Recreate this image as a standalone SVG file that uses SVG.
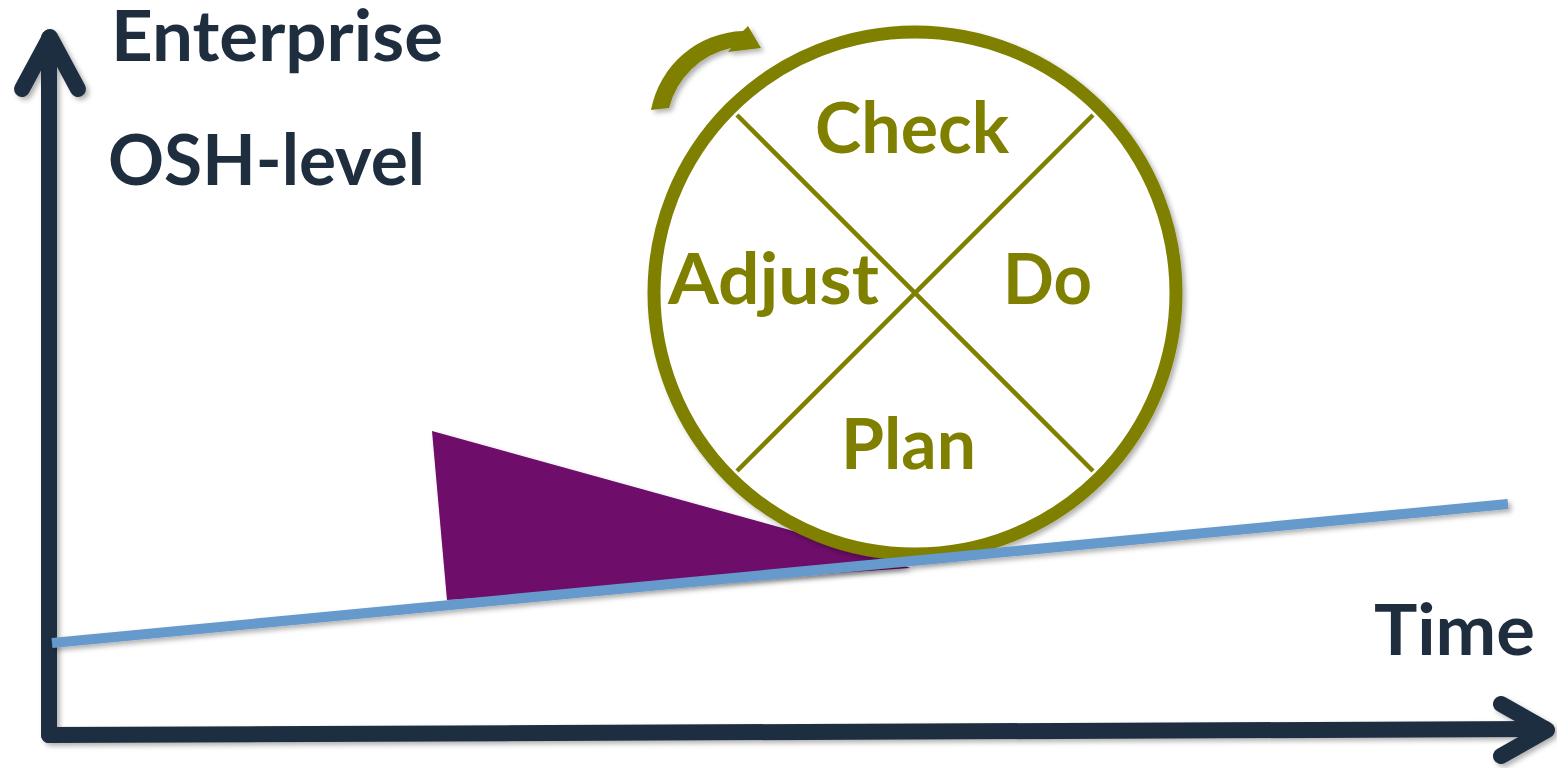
<svg xmlns="http://www.w3.org/2000/svg" width="1557" height="768" viewBox="0 0 1557 768">
  <style>
    .axis { fill: none; stroke: #1F2E3F; stroke-width: 16; stroke-linecap: round; stroke-linejoin: round; }
    .lbl { font-family: Lato, "Open Sans", "Liberation Sans", sans-serif; font-weight: bold; font-size: 71px; }
    .dark { fill: #1F2E3F; }
    .olive { fill: #808000; }
    .pdca-line { stroke: #808000; stroke-width: 4.5; }
  </style>
  <defs>
    <filter id="sh" x="-10%" y="-10%" width="120%" height="120%">
      <feDropShadow dx="3" dy="3" stdDeviation="2.5" flood-color="#000" flood-opacity="0.3"/>
    </filter>
  </defs>
  <rect width="1557" height="768" fill="#FFFFFF"/>

  <g id="axes" filter="url(#sh)">
    <line class="axis" x1="49" y1="735" x2="49" y2="38" stroke-linecap="butt"/>
    <polyline class="axis" points="22,89 50,37 78,89"/>
    <line class="axis" x1="49" y1="735" x2="1545" y2="729" stroke-linecap="butt"/>
    <polyline class="axis" points="1501,704 1547,730 1501,756"/>
  </g>

  <g id="wedge" filter="url(#sh)">
    <polygon points="432,431 447,600 910,568 880,555" fill="#6E086B"/>
  </g>

  <g id="pdca-wheel" filter="url(#sh)">
    <circle cx="915" cy="293" r="261" fill="#FFFFFF" stroke="#808000" stroke-width="13"/>
    <line class="pdca-line" x1="737" y1="115" x2="1093" y2="471"/>
    <line class="pdca-line" x1="1093" y1="115" x2="737" y2="471"/>
  </g>

  <g id="rotation-arrow" filter="url(#sh)">
    <path d="M651,110 A97,97 0 0 1 743,31 L748,26 L761,48 L728,52 L731,48 A82,82 0 0 0 669,108 Z" fill="#808000"/>
  </g>

  <g id="baseline" filter="url(#sh)">
    <line x1="52" y1="643" x2="1508" y2="504" stroke="#6699CC" stroke-width="10"/>
  </g>

  <g id="labels">
    <text class="lbl dark" x="111" y="61" textLength="332" lengthAdjust="spacingAndGlyphs">Enterprise</text>
    <text class="lbl dark" x="108" y="185" textLength="317" lengthAdjust="spacingAndGlyphs">OSH-level</text>
    <text class="lbl dark" x="1374" y="655" textLength="161" lengthAdjust="spacingAndGlyphs">Time</text>
  </g>
  <g id="pdca-labels">
    <text class="lbl olive" x="815" y="153" textLength="194" lengthAdjust="spacingAndGlyphs">Check</text>
    <text class="lbl olive" x="668" y="304" textLength="211" lengthAdjust="spacingAndGlyphs">Adjust</text>
    <text class="lbl olive" x="1003" y="304" textLength="89" lengthAdjust="spacingAndGlyphs">Do</text>
    <text class="lbl olive" x="841" y="469" textLength="135" lengthAdjust="spacingAndGlyphs">Plan</text>
  </g>
</svg>
